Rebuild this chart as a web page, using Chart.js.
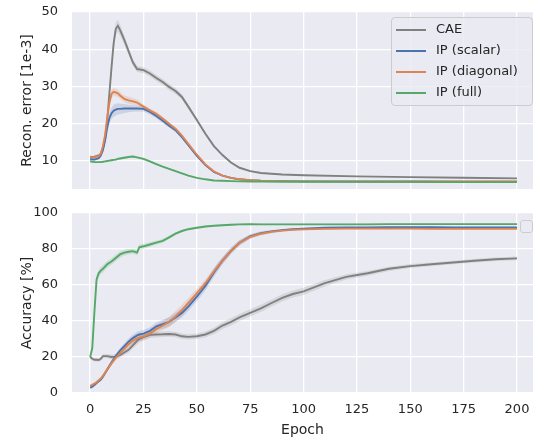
<!DOCTYPE html>
<html>
<head>
<meta charset="utf-8">
<script src="https://cdn.jsdelivr.net/npm/chart.js@4.4.0/dist/chart.umd.min.js"></script>
<style>
  body { margin: 0; background: #fff; font-family: "DejaVu Sans", sans-serif; }
  #wrap { position: relative; width: 533px; height: 439px; overflow: hidden; }
  canvas { position: absolute; left: 0; }
  #c1 { top: 0; }
  #c2 { top: 200px; }
  .legend { position: absolute; left: 391px; top: 17px; width: 140px; height: 87px;
    border: 1px solid #cccccc; border-radius: 4px; background: rgba(234,234,242,0.8); }
  .row { position: absolute; left: 0; height: 20px; }
  .row i { position: absolute; left: 4px; top: 9px; width: 30px; height: 2px; }
  .row span { position: absolute; left: 44px; top: 1px; font-size: 13px; color: #262626; white-space: nowrap; }
  .emptyLegend { position: absolute; left: 520px; top: 220px; width: 11px; height: 11px;
    border: 1px solid #cccccc; border-radius: 3px; background: rgba(234,234,242,0.8); }
</style>
</head>
<body>
<div id="wrap">
  <canvas id="c1" width="533" height="200"></canvas>
  <canvas id="c2" width="533" height="239"></canvas>
  <div class="legend" id="legend"></div>
  <div class="emptyLegend"></div>
</div>
<script>
// ===== Data =====
const seriesNames = ['CAE', 'IP (scalar)', 'IP (diagonal)', 'IP (full)'];
const seriesColors = ['#808080', '#4C72B0', '#DD8452', '#55A868'];
const xTicks = [0, 25, 50, 75, 100, 125, 150, 175, 200];
const reconTicks = [10, 20, 30, 40, 50];
const accTicks = [0, 20, 40, 60, 80, 100];

// Reconstruction error [1e-3]
const reconEpochs = [0,2,4,5,6,7,8,9,10,11,12,13,14,16,18,20,22,25,28,31,34,37,40,43,46,50,54,58,62,66,70,75,80,90,100,125,150,175,200];
const reconCAE    = [11.0,11.2,11.5,12,13.5,16,21,28,35,41.5,45.5,46.3,45.2,42.5,39.5,36.5,34.7,34.4,33.5,32.3,31.2,29.9,28.8,27.2,24.6,21.0,17.3,14.0,11.6,9.6,8.2,7.3,6.8,6.4,6.2,5.9,5.7,5.5,5.35];
const reconScalar = [10.5,10.4,10.8,11.5,13,15.5,19,21.5,22.8,23.5,23.8,24,24,24.1,24.1,24.1,24.1,24,23.2,22.1,20.8,19.5,18.3,16.4,14.3,11.4,8.9,7.1,6.1,5.5,5.1,4.85,4.7,4.6,4.55,4.5,4.5,4.45,4.45];
const reconDiag   = [11.2,11.0,11.3,12,14,17,21.5,25.5,28,28.6,28.4,28.2,27.6,26.7,26.3,26.0,25.7,24.6,23.6,22.7,21.4,20,18.7,16.8,14.6,11.7,9.1,7.2,6.1,5.5,5.1,4.85,4.7,4.6,4.55,4.55,4.5,4.5,4.5];
const reconFull   = [9.9,9.7,9.7,9.7,9.8,9.9,10.0,10.1,10.2,10.3,10.4,10.6,10.7,10.9,11.1,11.2,11.0,10.6,9.9,9.2,8.5,7.9,7.3,6.7,6.1,5.5,5.1,4.8,4.7,4.6,4.55,4.5,4.5,4.45,4.45,4.4,4.4,4.35,4.35];
const reconCAESd    = [0.3,0.3,0.3,0.4,0.6,0.8,1.0,1.2,1.4,1.5,1.6,1.6,1.5,1.2,1.0,0.9,0.8,0.8,0.8,0.8,0.8,0.8,0.8,0.7,0.6,0.5,0.4,0.3,0.3,0.2,0.2,0.2,0.2,0.1,0.1,0.1,0.1,0.1,0.1];
const reconScalarSd = [0.3,0.3,0.3,0.4,0.6,0.8,1.0,1.3,1.5,1.6,1.6,1.5,1.4,1.2,1.0,0.9,0.8,0.7,0.7,0.6,0.6,0.5,0.5,0.4,0.4,0.3,0.3,0.2,0.2,0.1,0.1,0.1,0.1,0.1,0.1,0.1,0.1,0.1,0.1];
const reconDiagSd   = [0.3,0.3,0.3,0.4,0.5,0.7,0.9,1.0,1.1,1.1,1.0,1.0,0.9,0.9,1.0,0.9,0.8,0.6,0.5,0.5,0.5,0.4,0.4,0.4,0.3,0.3,0.3,0.2,0.2,0.1,0.1,0.1,0.1,0.1,0.1,0.1,0.1,0.1,0.1];
const reconFullSd   = [0.3,0.2,0.2,0.2,0.2,0.2,0.2,0.2,0.3,0.3,0.3,0.3,0.3,0.3,0.3,0.3,0.3,0.3,0.3,0.2,0.2,0.2,0.2,0.2,0.2,0.1,0.1,0.1,0.1,0.1,0.1,0.1,0.1,0.1,0.1,0.1,0.1,0.1,0.1];

// Accuracy [%]
const accEpochs = [0,1,2,3,4,5,6,8,10,12,14,16,18,20,22,23,25,28,31,34,37,40,43,46,50,54,58,62,66,70,75,80,85,90,95,100,110,120,130,140,150,160,170,180,190,200];
const accCAE    = [20,19,18.5,18.5,18.3,19,20.5,20.5,20,20.2,21,22.5,24,26.5,29,30,31,32.3,32.5,32.6,32.8,32.5,31.5,31.2,31.5,32.5,34.5,37.5,39.5,42,44.5,47,50,52.8,55,56.5,61,64.5,66.5,69,70.5,71.5,72.5,73.5,74.3,74.8];
const accScalar = [3,3.5,4.5,5.5,6.5,7.5,9,13,17,20.5,23.5,26,28.5,30.5,32,32.5,33,34.5,37,38.2,39.5,42,44.5,48,53.5,59.5,67,73.5,79,83.5,87,88.8,89.8,90.5,91,91.3,91.8,92,92,92.1,92.1,92.1,92,92,92,92];
const accDiag   = [4,4.5,5.2,6,7,8,9.5,13,16.5,19.5,22,24.5,27,29,30.3,30.8,31.5,33,35.5,37.5,39.5,42.5,46,50,55.5,61,67.5,73.5,79,83.5,86.8,88.5,89.5,90.2,90.6,90.9,91.2,91.3,91.3,91.3,91.3,91.2,91.2,91.2,91.2,91.2];
const accFull   = [20,25,45,63,66.5,68,69,71.5,73,75,77,78,78.5,78.8,78,81,81.5,82.5,83.5,84.5,86.5,88.5,90,91,91.8,92.5,92.9,93.2,93.5,93.7,93.8,93.7,93.7,93.7,93.7,93.7,93.7,93.7,93.7,93.8,93.8,93.8,93.8,93.8,93.8,93.8];
const accCAESd    = [1.0,1.0,1.0,1.0,1.0,1.2,1.2,1.2,1.2,1.3,1.4,1.5,1.6,1.8,2.0,2.0,2.0,1.8,1.6,1.5,1.5,1.5,1.5,1.5,1.5,1.6,1.8,2.0,2.0,2.0,2.0,2.0,2.0,2.0,2.0,2.0,1.8,1.5,1.3,1.2,1.1,1.0,1.0,1.0,1.0,1.0];
const accScalarSd = [0.8,0.8,0.8,0.9,1.0,1.0,1.1,1.2,1.3,1.4,1.5,1.6,1.8,2.0,2.0,2.0,2.0,2.0,2.2,2.5,2.5,2.5,2.5,2.5,2.5,2.5,2.5,2.0,1.8,1.5,1.2,1.0,0.8,0.6,0.5,0.5,0.4,0.4,0.4,0.4,0.4,0.4,0.4,0.4,0.4,0.4];
const accDiagSd   = [0.8,0.8,0.8,0.9,1.0,1.0,1.1,1.2,1.3,1.4,1.5,1.6,1.8,2.0,2.0,2.0,2.0,2.0,2.2,2.5,2.8,3.0,3.0,2.8,2.5,2.2,2.0,1.8,1.6,1.4,1.2,1.0,0.8,0.6,0.5,0.5,0.4,0.4,0.4,0.4,0.4,0.4,0.4,0.4,0.4,0.4];
const accFullSd   = [1.0,2.0,3.0,2.5,2.0,2.0,2.0,1.8,1.8,1.8,1.8,1.6,1.5,1.5,1.5,1.5,1.4,1.3,1.2,1.0,0.9,0.8,0.7,0.6,0.5,0.5,0.4,0.4,0.4,0.4,0.4,0.4,0.4,0.4,0.4,0.4,0.4,0.4,0.4,0.4,0.4,0.4,0.4,0.4,0.4,0.4];

// ===== Helpers =====
const FONT = '"DejaVu Sans", sans-serif';
const INK = '#262626';

function rgba(hex, a){
  const n = parseInt(hex.slice(1), 16);
  return `rgba(${(n>>16)&255},${(n>>8)&255},${n&255},${a})`;
}

// band (mean +/- sd) + mean line for one series
function seriesSets(epochs, mean, sd, idx){
  const color = seriesColors[idx];
  const lo = epochs.map((e,i) => ({ x:e, y: mean[i]-sd[i] }));
  const hi = epochs.map((e,i) => ({ x:e, y: mean[i]+sd[i] }));
  const mid = epochs.map((e,i) => ({ x:e, y: mean[i] }));
  return [
    { data: lo, borderWidth: 0, pointRadius: 0, fill: false, order: 50 + idx * 2 },
    { data: hi, borderWidth: 0, pointRadius: 0, fill: '-1', backgroundColor: rgba(color, 0.2), order: 49 + idx * 2 },
    { label: seriesNames[idx], data: mid, borderColor: color, borderWidth: 1.9, pointRadius: 0, fill: false, order: 10 - idx }
  ];
}

const bgPlugin = {
  id: 'bg',
  beforeDraw(chart){
    const { ctx, chartArea: a } = chart;
    ctx.save();
    ctx.fillStyle = '#EAEAF2';
    ctx.fillRect(a.left, a.top, a.right - a.left, a.bottom - a.top);
    ctx.restore();
  }
};

const gridOpts = { color: '#ffffff', lineWidth: 1.3, drawTicks: false };

// fixed axis sizes, no extra padding for the end labels
function yAxis(ticks, min, max, title){
  return {
    type: 'linear', min, max,
    grid: gridOpts,
    border: { display: false },
    afterBuildTicks(s){ s.ticks = ticks.map(v => ({ value: v })); },
    afterFit(s){ s.width = 72; s.paddingTop = 0; s.paddingBottom = 0; },
    ticks: { font: { family: FONT, size: 13 }, color: INK, padding: 14 },
    title: { display: true, text: title, font: { family: FONT, size: 14 }, color: INK, padding: { top: 19, bottom: 0 } }
  };
}

function xAxis(showLabels, height){
  return {
    type: 'linear', min: -8.5, max: 207.5,
    grid: gridOpts,
    border: { display: false },
    afterBuildTicks(s){ s.ticks = xTicks.map(v => ({ value: v })); },
    afterFit(s){ s.height = height; s.paddingLeft = 0; s.paddingRight = 0; },
    ticks: { display: showLabels, font: { family: FONT, size: 13 }, color: INK, padding: 9, maxRotation: 0 },
    title: { display: showLabels, text: 'Epoch', font: { family: FONT, size: 14 }, color: INK, padding: { top: 0, bottom: 0 } }
  };
}

function baseOptions(top, x, y){
  return {
    responsive: false,
    animation: false,
    layout: { autoPadding: false, padding: { top, left: 0, right: 0, bottom: 0 } },
    plugins: { legend: { display: false }, tooltip: { enabled: false } },
    elements: { line: { tension: 0 } },
    scales: { x, y }
  };
}

// ===== Top: reconstruction error =====
const reconSets = [
  ...seriesSets(reconEpochs, reconCAE, reconCAESd, 0),
  ...seriesSets(reconEpochs, reconScalar, reconScalarSd, 1),
  ...seriesSets(reconEpochs, reconDiag, reconDiagSd, 2),
  ...seriesSets(reconEpochs, reconFull, reconFullSd, 3)
];
new Chart(document.getElementById('c1'), {
  type: 'line',
  data: { datasets: reconSets },
  options: baseOptions(12, xAxis(false, 11), yAxis(reconTicks, 2.5, 50, 'Recon. error [1e-3]')),
  plugins: [bgPlugin]
});

// ===== Bottom: accuracy =====
const accSets = [
  ...seriesSets(accEpochs, accCAE, accCAESd, 0),
  ...seriesSets(accEpochs, accScalar, accScalarSd, 1),
  ...seriesSets(accEpochs, accDiag, accDiagSd, 2),
  ...seriesSets(accEpochs, accFull, accFullSd, 3)
];
new Chart(document.getElementById('c2'), {
  type: 'line',
  data: { datasets: accSets },
  options: baseOptions(13, xAxis(true, 46), yAxis(accTicks, 0, 100, 'Accuracy [%]')),
  plugins: [bgPlugin]
});

// ===== Legend (top plot) =====
const legendEl = document.getElementById('legend');
seriesNames.forEach((name, i) => {
  const row = document.createElement('div');
  row.className = 'row';
  row.style.top = (2 + i * 21) + 'px';
  row.innerHTML = `<i style="background:${seriesColors[i]}"></i><span>${name}</span>`;
  legendEl.appendChild(row);
});
</script>
</body>
</html>
